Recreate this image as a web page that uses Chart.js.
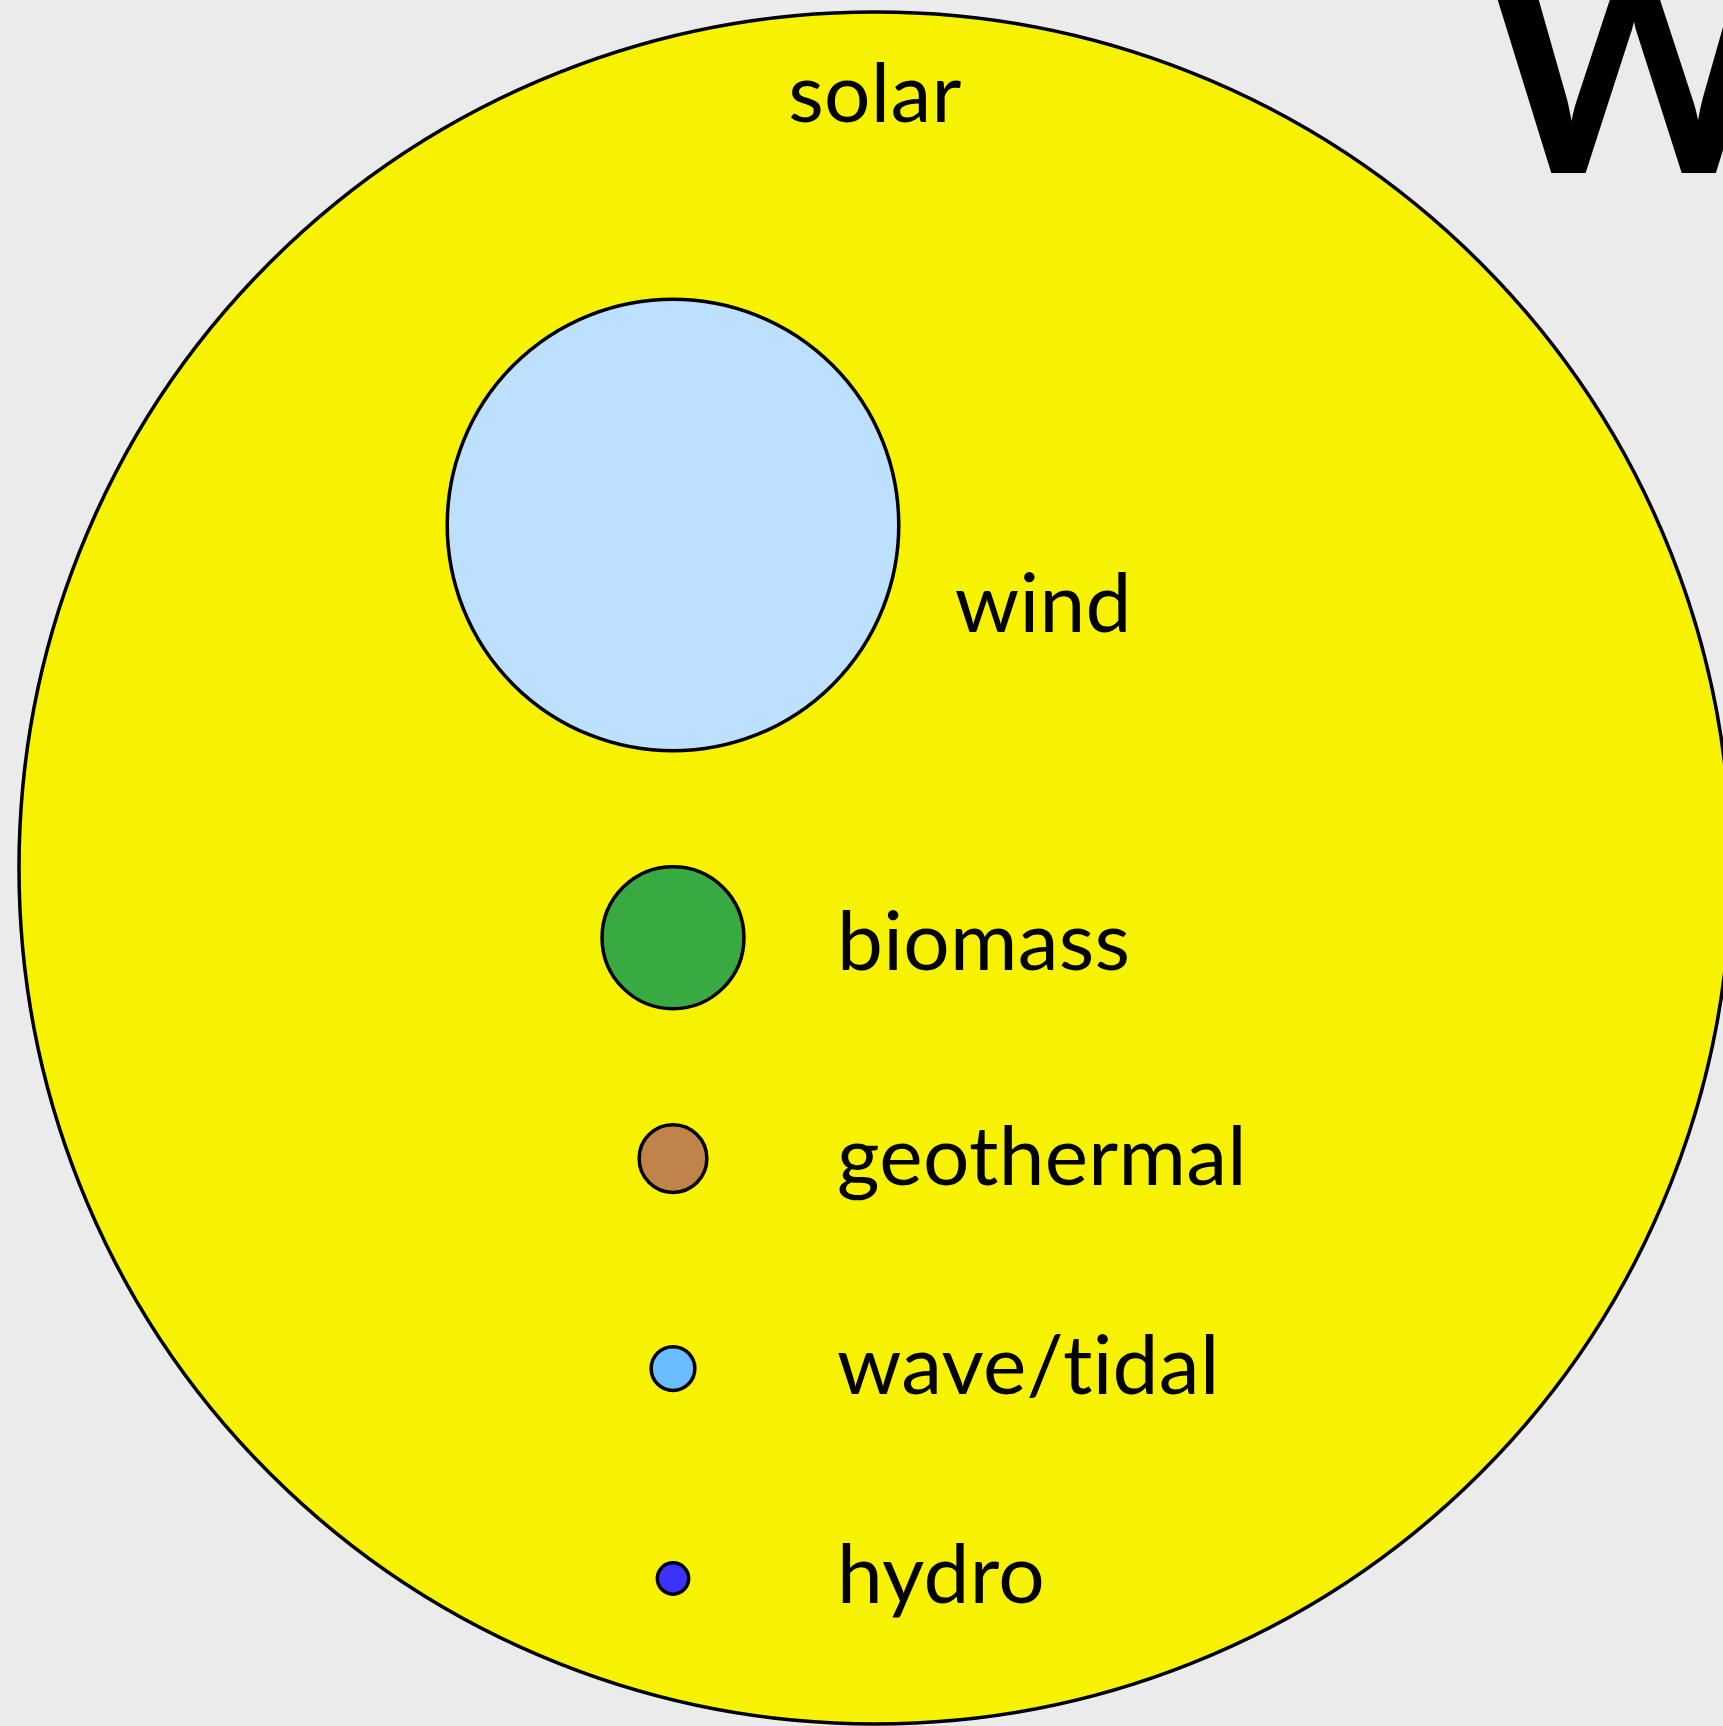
<!DOCTYPE html>
<html>
<head>
<meta charset="utf-8">
<title>Renewable energy potential</title>
<script src="https://cdn.jsdelivr.net/npm/chart.js@4.4.1/dist/chart.umd.min.js"></script>
<style>
    html, body { margin: 0; padding: 0; background: #ebebeb; overflow: hidden; }
    #wrap { position: relative; width: 1723px; height: 1726px; }
</style>
</head>
<body>
<div id="wrap"><canvas id="chart"></canvas></div>
<script>
// sources, largest first; values are relative potential (bubble area)
const sources = ['solar', 'wind', 'biomass', 'geothermal', 'wave/tidal', 'hydro'];
const potential = [23000, 1600, 158, 36, 15, 7.7];
const fills = ['#f7f200', '#bce0fe', '#39aa42', '#c0844a', '#6abdff', '#3b32ff'];
const titleText = 'W';

const W = 1723;
const H = 1726;

const Layout = {
    bigRadius: 856,
    bigCx: 875,
    bigCy: 868,
    colX: 673,        // column of the smaller bubbles
    firstRowY: 525,
    rowPad: 116,
    minStep: 210,
    labelX: 164,
    font: 'Lato, "Noto Sans", sans-serif',
    labelSize: 82
};

function radiusFor(v) {
    return Layout.bigRadius * Math.sqrt(v / potential[0]);
}

// largest bubble holds the rest; others stacked in one column
function buildPoints() {
    const pts = [{ x: Layout.bigCx, y: Layout.bigCy, r: radiusFor(potential[0]) }];
    let y = Layout.firstRowY;
    let prevR = 0;
    for (let i = 1; i < potential.length; i++) {
        const r = radiusFor(potential[i]);
        if (i > 1) y += Math.max(Layout.minStep, prevR + r + Layout.rowPad);
        pts.push({ x: Layout.colX, y: y, r: r });
        prevR = r;
    }
    return pts;
}

const bubbleLabels = {
    id: 'bubbleLabels',
    afterDatasetsDraw(chart) {
        const ctx = chart.ctx;
        const meta = chart.getDatasetMeta(0);
        ctx.save();
        ctx.fillStyle = '#000';
        ctx.font = `${Layout.labelSize}px ${Layout.font}`;
        ctx.letterSpacing = '0.3px';   // keeps Lato from using its "ti" ligature
        ctx.textBaseline = 'alphabetic';
        meta.data.forEach((el, i) => {
            const r = el.options.radius;
            if (i === 0) {
                ctx.textAlign = 'center';
                ctx.fillText(sources[i], el.x, el.y - r + 110);
                return;
            }
            ctx.textAlign = 'left';
            const lx = el.x + Math.max(r + 56, Layout.labelX);
            const ly = el.y + 22 + 0.14 * r + Math.max(0, r - 150) * 0.7;
            ctx.fillText(sources[i], lx, ly);
        });
        ctx.restore();
    }
};

const bigTitle = {
    id: 'bigTitle',
    afterDraw(chart) {
        const ctx = chart.ctx;
        ctx.save();
        ctx.fillStyle = '#000';
        ctx.font = `bold 281px ${Layout.font}`;
        ctx.textAlign = 'left';
        ctx.textBaseline = 'alphabetic';
        ctx.fillText(titleText, 1486, 173);
        ctx.restore();
    }
};

new Chart(document.getElementById('chart'), {
    type: 'bubble',
    data: {
        datasets: [{
            data: buildPoints(),
            backgroundColor: fills,
            borderColor: '#000',
            borderWidth: 3.5,
            hoverBorderWidth: 3.5,
            clip: false
        }]
    },
    options: {
        responsive: true,
        maintainAspectRatio: false,
        animation: false,
        events: [],
        // bubbles would otherwise pad the chart area by the largest radius
        layout: { padding: 0, autoPadding: false },
        scales: {
            x: { type: 'linear', min: 0, max: W, display: false },
            y: { type: 'linear', min: 0, max: H, reverse: true, display: false }
        },
        plugins: {
            legend: { display: false },
            tooltip: { enabled: false },
            title: { display: false }
        }
    },
    plugins: [bubbleLabels, bigTitle]
});
</script>
</body>
</html>
